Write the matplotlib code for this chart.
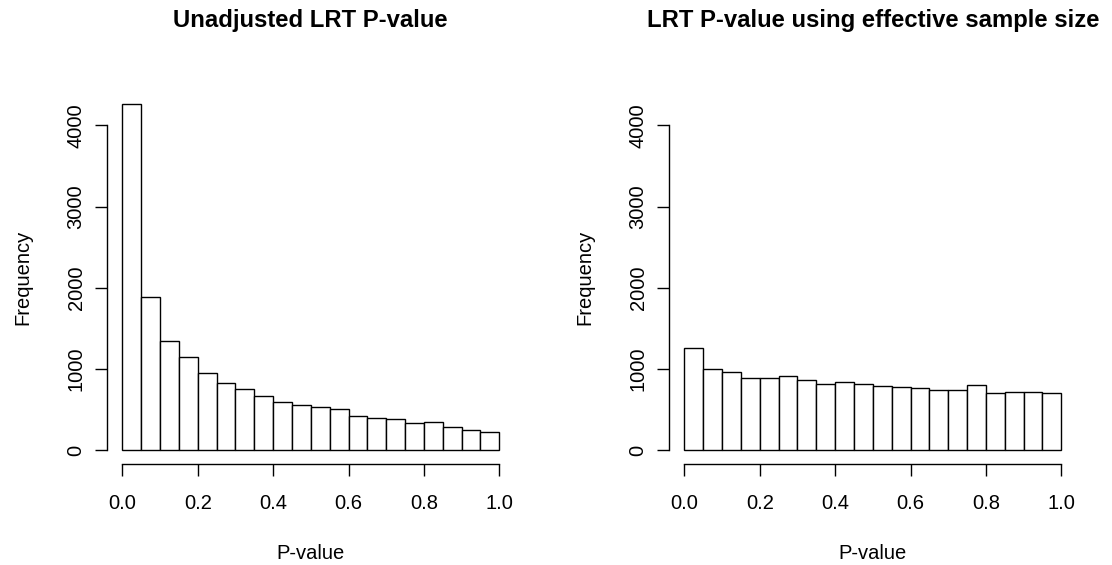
import numpy as np
import matplotlib
matplotlib.use("Agg")
import matplotlib.pyplot as plt


BIN_EDGES = [round(0.05 * i, 2) for i in range(21)]

UNADJUSTED_COUNTS = [4258, 1891, 1350, 1145, 948, 825, 751, 665, 599, 562,
                     533, 505, 423, 402, 390, 336, 349, 291, 254, 226]

EFFECTIVE_COUNTS = [1264, 1005, 964, 886, 894, 919, 870, 821, 837, 812,
                    792, 779, 763, 747, 738, 800, 706, 722, 722, 702]

TITLES = ["Unadjusted LRT P-value", "LRT P-value using effective sample size"]
X_TICKS = [0.0, 0.2, 0.4, 0.6, 0.8, 1.0]
Y_TICKS = [0, 1000, 2000, 3000, 4000]

plt.rcParams["font.family"] = ["Liberation Sans", "DejaVu Sans"]

W, H = 1112, 565
FONT = 14.5


def draw_hist(ax, counts, title):
    left_edges = BIN_EDGES[:-1]
    ax.bar(left_edges, counts, width=0.05, align="edge",
           facecolor="white", edgecolor="black", linewidth=1.0)

    ax.set_xlim(-0.04, 1.04)
    ax.set_ylim(-170, 4428)

    for side in ["top", "right"]:
        ax.spines[side].set_visible(False)
    ax.spines["left"].set_bounds(0, 4000)
    ax.spines["bottom"].set_bounds(0, 1)
    ax.spines["left"].set_linewidth(1.0)
    ax.spines["bottom"].set_linewidth(1.0)

    ax.set_xticks(X_TICKS)
    ax.set_xticklabels(["%.1f" % t for t in X_TICKS])
    ax.set_yticks(Y_TICKS)
    ax.set_yticklabels([str(t) for t in Y_TICKS], rotation=90, va="center")

    ax.tick_params(axis="both", length=8.5, width=1.0, labelsize=FONT)
    ax.tick_params(axis="x", pad=13)
    ax.tick_params(axis="y", pad=7)

    ax.set_xlabel("P-value", fontsize=FONT, labelpad=22)
    ax.set_ylabel("Frequency", fontsize=FONT, labelpad=25)

    pos = ax.get_position()
    cx = (pos.x0 + pos.x1) / 2
    ax.figure.text(cx, 1 - 21 / H, title, ha="center", va="center",
                   fontsize=17.2, fontweight="bold")


def main():
    fig = plt.figure(figsize=(W / 100, H / 100), dpi=100)

    bottom = (H - 464.1) / H
    height = 373.6 / H
    width = 407.2 / W

    ax1 = fig.add_axes([107.2 / W, bottom, width, height])
    ax2 = fig.add_axes([669.2 / W, bottom, width, height])

    draw_hist(ax1, UNADJUSTED_COUNTS, TITLES[0])
    draw_hist(ax2, EFFECTIVE_COUNTS, TITLES[1])

    fig.savefig("out.png", dpi=100)


if __name__ == "__main__":
    main()
